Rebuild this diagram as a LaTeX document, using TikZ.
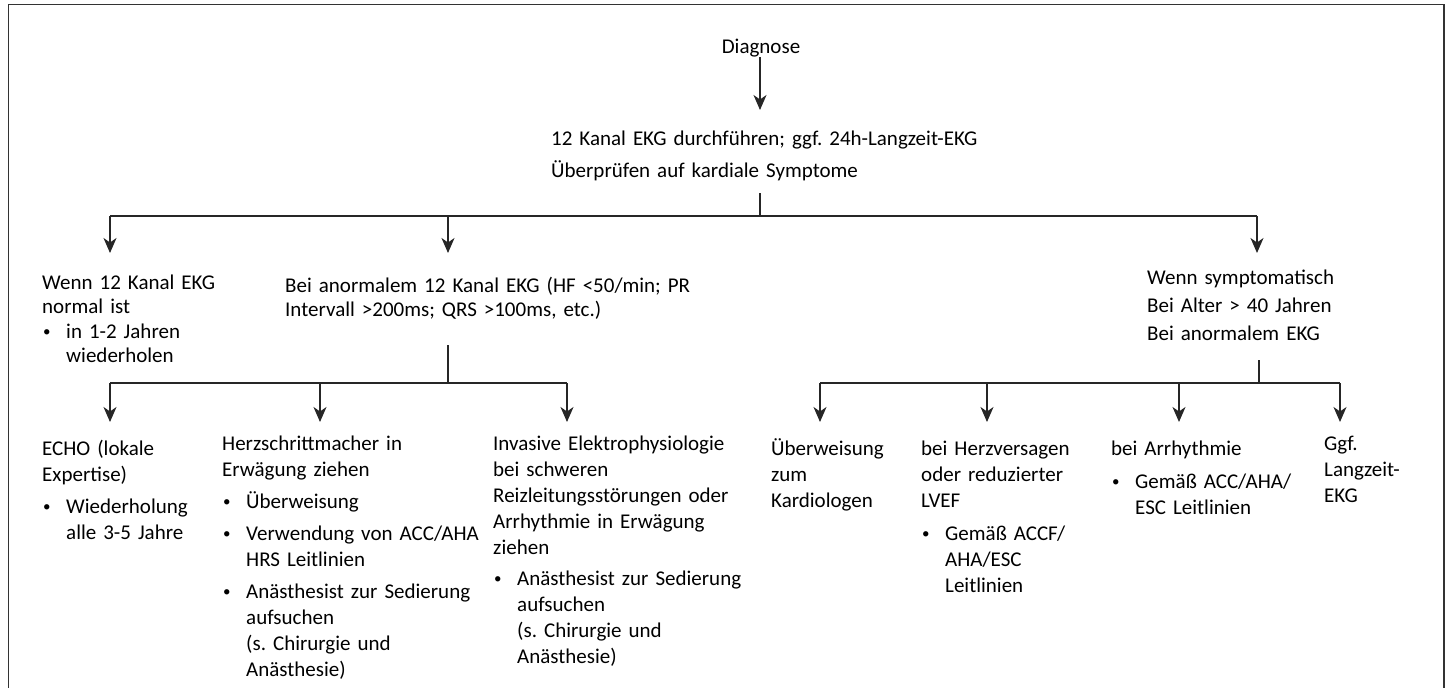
\documentclass[tikz,border=0pt]{standalone}
\usepackage{fontspec}
\setmainfont{Carlito}
\usetikzlibrary{arrows.meta}
\frenchspacing
\newcommand\bul{\makebox[24pt][l]{\hspace*{1pt}\raisebox{1.6pt}{\fontsize{15}{15}\selectfont •}}}
\newcommand\ind{\hspace*{24pt}}
\tikzset{
  lbl/.style={inner sep=0pt, font=\fontsize{21}{26}\selectfont},
  blk/.style={inner sep=0pt, anchor=base west, align=left, text width=#1, font=\fontsize{21}{26}\selectfont},
  blk/.default=300pt,
  ln/.style={draw=black!85, line width=1.2pt},
  arr/.style={ln, -{Stealth[length=15pt,width=13pt,inset=4.5pt]}},
  frame/.style={draw=black!80, line width=1.6pt}
}
\begin{document}
\begin{tikzpicture}[x=1pt,y=-1pt]
\useasboundingbox (0,0) rectangle (1449,688);
\draw[frame] (8.5,688) -- (8.5,4.5) -- (1444,4.5) -- (1444,688);

% texts
\node[lbl, anchor=base] (diag) at (761,53) {Diagnose};
\node[blk=520pt] (top) at (551,145) {12 Kanal EKG durchführen; ggf. 24h-Langzeit-EKG\\[6pt]Überprüfen auf kardiale Symptome};

\node[blk=220pt, font=\fontsize{21}{24.5}\selectfont] (normal) at (42,289) {Wenn 12 Kanal EKG\\normal ist\\\bul in 1-2 Jahren\\\ind wiederholen};
\node[blk=480pt, font=\fontsize{21}{24}\selectfont] (abn) at (285,292) {Bei anormalem 12 Kanal EKG (HF <50/min; PR\\Intervall >200ms; QRS >100ms, etc.)};
\node[blk=260pt, font=\fontsize{21}{28.3}\selectfont] (sym) at (1147,284) {Wenn symptomatisch\\Bei Alter > 40 Jahren\\Bei anormalem EKG};

\node[blk] (echo) at (42,455) {ECHO (lokale\\Expertise)\\[6pt]\bul Wiederholung\\\ind alle 3-5 Jahre};
\node[blk] (hsm) at (222,450) {Herzschrittmacher in\\Erwägung ziehen\\[6pt]\bul Überweisung\\[6pt]\bul Verwendung von ACC/AHA\\\ind HRS Leitlinien\\[6pt]\bul Anästhesist zur Sedierung\\\ind aufsuchen\\\ind (s. Chirurgie und\\\ind Anästhesie)};
\node[blk] (inv) at (493,450) {Invasive Elektrophysiologie\\bei schweren\\Reizleitungsstörungen oder\\Arrhythmie in Erwägung\\ziehen\\[5pt]\bul Anästhesist zur Sedierung\\\ind aufsuchen\\\ind (s. Chirurgie und\\\ind Anästhesie)};

\node[blk] (kard) at (771,455) {Überweisung\\zum\\Kardiologen};
\node[blk] (hv) at (921,455) {bei Herzversagen\\oder reduzierter\\LVEF\\[7pt]\bul Gemäß ACCF/\\\ind AHA/ESC\\\ind Leitlinien};
\node[blk] (arrh) at (1111,455) {bei Arrhythmie\\[7pt]\bul Gemäß ACC/AHA/\\\ind ESC Leitlinien};
\node[blk] (ggf) at (1324,450) {Ggf.\\Langzeit-\\EKG};

% junction coordinates
\coordinate (dtip) at (760,110);
\coordinate (s1) at (760,193);
\coordinate (j1) at (760,216);
\coordinate (b1) at (110,216);
\coordinate (b2) at (448,216);
\coordinate (b3) at (1257,216);
\coordinate (t1) at (110,253);
\coordinate (t2) at (448,253);
\coordinate (t3) at (1257,253);

\coordinate (s2) at (448,345);
\coordinate (j2) at (448,383);
\coordinate (c1) at (110,383);
\coordinate (c2) at (320,383);
\coordinate (c3) at (567,383);
\coordinate (u1) at (110,422);
\coordinate (u2) at (320,422);
\coordinate (u3) at (567,422);

\coordinate (s3) at (1259,360);
\coordinate (j3) at (1259,383);
\coordinate (r1) at (820,383);
\coordinate (r2) at (987,383);
\coordinate (r3) at (1179,383);
\coordinate (r4) at (1340,383);
\coordinate (v1) at (820,422);
\coordinate (v2) at (987,422);
\coordinate (v3) at (1179,422);
\coordinate (v4) at (1340,422);

% connectors
\draw[arr] (diag.south -| dtip) -- (dtip);
\draw[ln] (s1) -- (j1);
\draw[ln] (b1) -- (b3);
\draw[arr] (b1) -- (t1);
\draw[arr] (b2) -- (t2);
\draw[arr] (b3) -- (t3);

\draw[ln] (s2) -- (j2);
\draw[ln] (c1) -- (c3);
\draw[arr] (c1) -- (u1);
\draw[arr] (c2) -- (u2);
\draw[arr] (c3) -- (u3);

\draw[ln] (s3) -- (j3);
\draw[ln] (r1) -- (r4);
\draw[arr] (r1) -- (v1);
\draw[arr] (r2) -- (v2);
\draw[arr] (r3) -- (v3);
\draw[arr] (r4) -- (v4);
\end{tikzpicture}
\end{document}
